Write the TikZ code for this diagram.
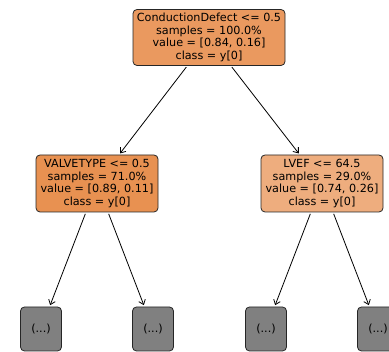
\documentclass[tikz,border=0pt]{standalone}
\usepackage{fontspec}
\setmainfont{DejaVu Sans}
\usetikzlibrary{arrows.meta}
\definecolor{rootc}{HTML}{EA995F}
\definecolor{leftc}{HTML}{E89151}
\definecolor{rightc}{HTML}{EEAD7E}
\definecolor{leafc}{HTML}{808080}
\begin{document}
\begin{tikzpicture}[x=1pt,y=-1pt,
  box/.style={draw=black!85,line width=0.8pt,rounded corners=4pt,align=center,inner sep=0pt,
    font=\fontsize{11.2}{12.7}\selectfont},
  leaf/.style={box,fill=leafc,minimum width=41pt,minimum height=44pt},
  edge/.style={-{Straight Barb[length=4.5pt,width=7pt]},line width=0.8pt,shorten >=1.5pt,shorten <=1.5pt}]
\useasboundingbox (0,0) rectangle (389,352);
\clip (0,0) rectangle (389,352);
\node[box,fill=rootc,minimum width=152pt,minimum height=56pt] (root) at (209,37.5)
  {ConductionDefect <= 0.5\\samples = 100.0\%\\value = [0.84, 0.16]\\class = y[0]};
\node[box,fill=leftc,minimum width=122pt,minimum height=57pt] (l) at (97,183.5)
  {VALVETYPE <= 0.5\\samples = 71.0\%\\value = [0.89, 0.11]\\class = y[0]};
\node[box,fill=rightc,minimum width=122pt,minimum height=57pt] (r) at (322,183.5)
  {LVEF <= 64.5\\samples = 29.0\%\\value = [0.74, 0.26]\\class = y[0]};
\node[leaf] (ll) at (41,329) {(...)};
\node[leaf] (lr) at (153,329) {(...)};
\node[leaf] (rl) at (266,329) {(...)};
\node[leaf] (rr) at (378,329) {(...)};
\draw[edge] (root) -- (l);
\draw[edge] (root) -- (r);
\draw[edge] (l) -- (ll);
\draw[edge] (l) -- (lr);
\draw[edge] (r) -- (rl);
\draw[edge] (r) -- (rr);
\end{tikzpicture}
\end{document}
